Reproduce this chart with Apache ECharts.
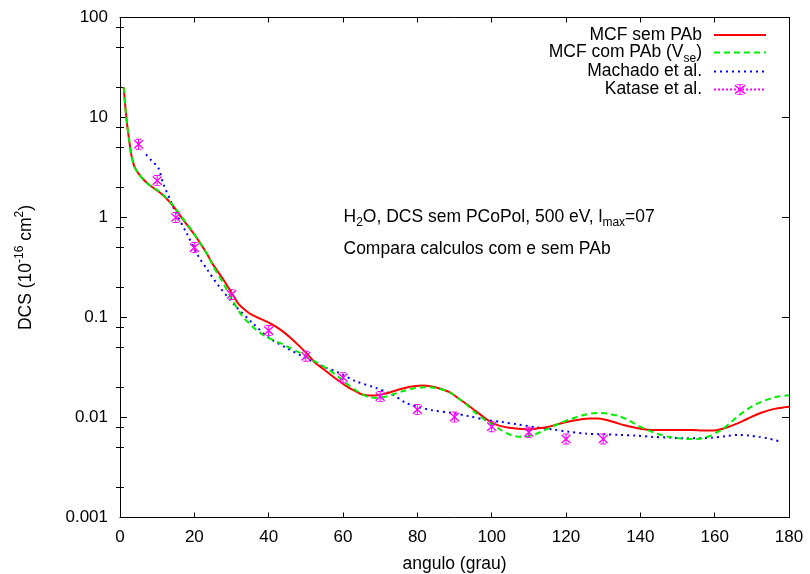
<!DOCTYPE html>
<html><head><meta charset="utf-8">
<script src="https://cdn.jsdelivr.net/npm/echarts@6/dist/echarts.min.js"></script>
<style>html,body{margin:0;padding:0;background:#fff}#c{width:810px;height:574px}</style>
</head><body><div id="c"></div>
<script>
// ---------- data ----------
const xTickLabels = ['0','20','40','60','80','100','120','140','160','180'];
const yTickLabels = ['0.001','0.01','0.1','1','10','100'];
const yMinorTicks = [0.002,0.005,0.008,0.02,0.05,0.08,0.2,0.5,0.8,2,5,8,20,50,80];

const seriesNames = ['MCF sem PAb','MCF com PAb (Vse)','Machado et al.','Katase et al.'];

const mcfSemPAb = [[1.0,20],[1.5,12],[2,8.0],[2.5,5.8],[3,4.3],[3.5,3.6],[4,3.15],[5,2.75],[6.3,2.4],[8,2.1],
 [10.8,1.77],[12.5,1.55],[14.3,1.3],[17,0.95],[19.7,0.70],[21.5,0.56],[23.3,0.44],[25,0.34],[27.8,0.24],[30,0.177],
 [32,0.135],[34.7,0.111],[37,0.1],[39.2,0.092],[41.5,0.083],[43.7,0.073],[46,0.062],[48.2,0.052],[50.4,0.043],
 [52.6,0.035],[55,0.030],[57.1,0.026],[59.4,0.0225],[61.6,0.0198],[63.5,0.0182],[65.2,0.017],[67,0.0166],
 [68.8,0.0166],[70.6,0.0171],[72.4,0.0177],[74.6,0.0188],[76.9,0.0198],[79,0.0205],[81.3,0.0209],[83.5,0.0206],
 [85.8,0.0196],[88.5,0.0180],[91.2,0.0154],[93.5,0.0134],[95.7,0.0116],[98,0.0100],[100.2,0.0088],[102.5,0.0082],
 [104.7,0.0079],[107.3,0.0077],[110,0.0076],[112.7,0.0078],[115.4,0.0081],[118,0.0086],[120.8,0.0091],[123.5,0.0095],
 [126.2,0.0098],[128.5,0.0098],[130.7,0.0095],[133.3,0.0089],[136,0.0083],[138.7,0.0079],[141.4,0.0076],[144.5,0.0075],
 [147.7,0.0075],[151,0.0075],[154,0.0075],[157,0.0074],[159.4,0.0074],[161.3,0.0076],[163,0.0079],[165.3,0.0085],
 [167.5,0.0092],[170,0.0102],[172.9,0.0113],[176,0.0122],[179,0.0127],[180,0.0128]];

const mcfComPAb = [[1.0,20],[1.5,12],[2,8.0],[2.5,5.8],[3,4.3],[3.5,3.6],[4,3.15],[5,2.75],[6.3,2.4],[8,2.1],
 [10.8,1.8],[12.5,1.56],[14.3,1.32],[17,0.97],[19.7,0.71],[21.5,0.56],[23.3,0.44],[25,0.33],[27.8,0.22],[30,0.155],
 [32.9,0.103],[34.7,0.088],[36.5,0.076],[38.8,0.066],[41,0.060],[43.3,0.055],[45.5,0.050],[48,0.045],[50.8,0.0395],
 [53.5,0.0345],[56.2,0.030],[58.5,0.026],[60.7,0.0222],[63,0.0192],[65.2,0.017],[67,0.016],[68.8,0.0157],[71,0.016],
 [73.3,0.017],[76,0.0183],[78.6,0.0194],[81,0.0200],[83.1,0.0201],[85.8,0.0194],[88.5,0.0181],[91.2,0.0154],
 [93.5,0.0132],[95.7,0.0111],[98,0.0096],[100.2,0.0085],[102.5,0.0075],[104.7,0.0068],[106.5,0.0065],[108.2,0.0064],
 [110,0.0065],[111.8,0.0068],[114,0.0074],[116.3,0.0081],[118.5,0.0088],[120.8,0.0095],[123,0.0101],[125.3,0.0107],
 [127,0.0110],[128.9,0.0111],[131.5,0.0109],[134.3,0.0103],[137,0.0093],[139.6,0.0082],[142.3,0.0074],[145,0.0068],
 [147.7,0.0064],[150.4,0.0062],[152.7,0.0061],[154.9,0.0061],[156.7,0.0062],[158.5,0.0065],[160.3,0.0070],
 [162.1,0.0076],[164.3,0.0089],[166.5,0.0105],[168.7,0.012],[171,0.0135],[173.3,0.0147],[175.5,0.0157],
 [177.5,0.0163],[180,0.0167]];

const machado = [[7.0,4.27],[8.5,3.7],[10.3,3.14],[11.7,2.14],[13.5,1.51],[14.8,1.16],[17.9,0.70],[21.1,0.41],
 [23.5,0.30],[26.6,0.206],[31.1,0.13],[35.6,0.0885],[40.1,0.0626],[44.6,0.050],[49,0.041],[54.4,0.0326],
 [58.9,0.028],[63.4,0.0231],[68.8,0.0198],[73.3,0.017],[76.9,0.014],[80.4,0.0127],[84,0.0118],[89.4,0.0111],
 [93.9,0.0103],[98.4,0.0095],[102.8,0.009],[107.3,0.0085],[111.8,0.008],[116.3,0.0076],[120.8,0.0072],
 [125.3,0.0069],[129.8,0.0068],[134.3,0.0067],[138.8,0.0066],[143.2,0.0064],[147.7,0.0063],[152.2,0.0062],
 [155.8,0.0062],[159.4,0.0063],[163,0.0065],[166.5,0.0067],[169.2,0.0066],[171.9,0.0064],[174.2,0.0062],
 [176.4,0.0059],[177.5,0.0058]];

const katase = [[5,5.4],[10,2.34],[15,1.0],[20,0.5],[30,0.17],[40,0.074],[50,0.041],[60,0.025],[70,0.0162],
 [80,0.012],[90,0.0101],[100,0.0081],[110,0.0071],[120,0.0061],[130,0.0061]];

// ---------- chart ----------
const FONT = 'Liberation Sans';
const chart = echarts.init(document.getElementById('c'), null, {renderer:'canvas'});
const xMark = 'path://M1,2L2,1L6,5L10,1L11,2L7,6L11,10L10,11L6,7L2,11L1,10L5,6Z M3,0L9,0L9,1L3,1Z M3,11L9,11L9,12L3,12Z M5.5,0L6.5,0L6.5,12L5.5,12Z';

const legendText = {
  fontFamily: FONT, fontSize: 17.5, color: '#000', lineHeight: 24, padding: [0, 7, 0, 0],
  rich: { sub: { fontFamily: FONT, fontSize: 12, color: '#000', verticalAlign: 'bottom', lineHeight: 24 } }
};
const legendRowsTop = [23, 40.5, 59.5, 77.5];
function mkLegend(i, extra) {
  return Object.assign({
    show: true, orient: 'vertical', right: 43, top: legendRowsTop[i], padding: 0,
    align: 'right', itemWidth: 52, itemHeight: 14, selectedMode: false,
    data: [{ name: seriesNames[i], itemStyle: { opacity: 0, borderWidth: 0 } }], textStyle: legendText,
    formatter: n => n === 'MCF com PAb (Vse)' ? 'MCF com PAb (V{sub|se})' : n
  }, extra || {});
}

const axisLineStyle = { color: '#000', width: 1 };
const option = {
  animation: false,
  backgroundColor: '#fff',
  grid: { left: 120, right: 21, top: 17.5, bottom: 56.5, containLabel: false, outerBoundsMode: 'none' },
  legend: [
    mkLegend(0), mkLegend(1), mkLegend(2),
    mkLegend(3, { data: [{ name: seriesNames[3], lineStyle: { opacity: 1, width: 2, type: [2, 2], color: '#ff00ff' } }] })
  ],
  xAxis: [
    { type: 'value', position: 'bottom', min: 0, max: 180, interval: 20,
      axisLine: { show: true, lineStyle: axisLineStyle, onZero: false },
      axisTick: { show: true, inside: true, length: 5, lineStyle: axisLineStyle },
      axisLabel: { show: true, margin: 11, fontFamily: FONT, fontSize: 17, color: '#000',
                   formatter: v => xTickLabels[Math.round(v / 20)] },
      splitLine: { show: false },
      name: 'angulo (grau)', nameLocation: 'middle', nameGap: 38,
      nameTextStyle: { fontFamily: FONT, fontSize: 17.5, color: '#000' } },
    { type: 'value', position: 'top', min: 0, max: 180, interval: 20,
      axisLine: { show: true, lineStyle: axisLineStyle, onZero: false },
      axisTick: { show: true, inside: true, length: 5, lineStyle: axisLineStyle },
      axisLabel: { show: false }, splitLine: { show: false } }
  ],
  yAxis: [
    { type: 'log', logBase: 10, min: 0.001, max: 100, position: 'left',
      axisLine: { show: true, lineStyle: axisLineStyle, onZero: false },
      axisTick: { show: true, inside: true, length: 7, lineStyle: axisLineStyle },
      axisLabel: { show: true, margin: 12, fontFamily: FONT, fontSize: 17, color: '#000',
                   formatter: v => yTickLabels[Math.round(Math.log10(v)) + 3] },
      splitLine: { show: false }, minorTick: { show: false },
      name: 'DCS (10{sup|-16} cm{sup|2})', nameLocation: 'middle', nameGap: 82, nameRotate: 90,
      nameTextStyle: { fontFamily: FONT, fontSize: 17.5, color: '#000', lineHeight: 24,
        rich: { sup: { fontFamily: FONT, fontSize: 12, color: '#000', verticalAlign: 'top', lineHeight: 24 } } } },
    { type: 'log', logBase: 10, min: 0.001, max: 100, position: 'left',
      axisLine: { show: false },
      axisTick: { show: true, inside: true, length: 4, lineStyle: axisLineStyle, customValues: yMinorTicks },
      axisLabel: { show: false }, splitLine: { show: false } },
    { type: 'log', logBase: 10, min: 0.001, max: 100, position: 'right',
      axisLine: { show: true, lineStyle: axisLineStyle, onZero: false },
      axisTick: { show: true, inside: true, length: 7, lineStyle: axisLineStyle },
      axisLabel: { show: false }, splitLine: { show: false } },
    { type: 'log', logBase: 10, min: 0.001, max: 100, position: 'right',
      axisLine: { show: false },
      axisTick: { show: true, inside: true, length: 4, lineStyle: axisLineStyle, customValues: yMinorTicks },
      axisLabel: { show: false }, splitLine: { show: false } }
  ],
  graphic: [
    { type: 'text', left: 343.5, top: 205,
      style: { text: 'H{sub|2}O, DCS sem PCoPol, 500 eV, l{sub|max}=07', fontFamily: FONT, fontSize: 17.5,
               fill: '#000', lineHeight: 24,
               rich: { sub: { fontFamily: FONT, fontSize: 12, fill: '#000', verticalAlign: 'bottom', lineHeight: 24 } } } },
    { type: 'text', left: 343.5, top: 237,
      style: { text: 'Compara calculos com e sem PAb', fontFamily: FONT, fontSize: 17.5, fill: '#000', lineHeight: 24 } }
  ],
  series: [
    { name: seriesNames[0], type: 'line', data: mcfSemPAb, xAxisIndex: 0, yAxisIndex: 0,
      symbol: 'none', smooth: 0.3, lineStyle: { color: '#ff0000', width: 2, type: 'solid' },
      itemStyle: { color: '#ff0000' }, z: 3 },
    { name: seriesNames[1], type: 'line', data: mcfComPAb, xAxisIndex: 0, yAxisIndex: 0,
      symbol: 'none', smooth: 0.3, lineStyle: { color: '#00ee00', width: 2, type: [6, 4] },
      itemStyle: { color: '#00ee00' }, z: 4 },
    { name: seriesNames[2], type: 'line', data: machado, xAxisIndex: 0, yAxisIndex: 0,
      symbol: 'none', smooth: 0.3, lineStyle: { color: '#0000ff', width: 2, type: [2, 4] },
      itemStyle: { color: '#0000ff' }, z: 2 },
    { name: seriesNames[3], type: 'line', data: katase, xAxisIndex: 0, yAxisIndex: 0,
      symbol: xMark, symbolSize: [10, 11], showSymbol: true,
      lineStyle: { opacity: 0, width: 0 }, itemStyle: { color: '#ff00ff' }, z: 5 }
  ]
};
chart.setOption(option);
</script></body></html>
